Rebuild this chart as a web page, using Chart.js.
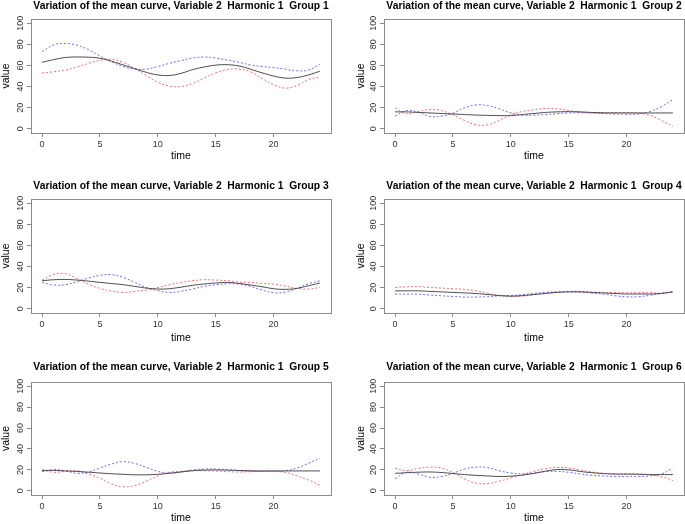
<!DOCTYPE html>
<html>
<head>
<meta charset="utf-8">
<script src="https://cdn.jsdelivr.net/npm/chart.js@4.4.0/dist/chart.umd.min.js"></script>
<style>
html, body { margin: 0; padding: 0; background: #fff; overflow: hidden; width: 685px; height: 524px; }
canvas { position: absolute; display: block; }
</style>
</head>
<body>
<script>
// time axis 0..24
var times = [0,1,2,3,4,5,6,7,8,9,10,11,12,13,14,15,16,17,18,19,20,21,22,23,24];
var xTicks = [0, 5, 10, 15, 20];
var yTicks = [0, 20, 40, 60, 80, 100];
var titlePrefix = 'Variation of the mean curve, Variable 2  Harmonic 1  Group ';

// mean curve (black), + harmonic (blue), - harmonic (red)
var mean1  = [63,65.5,67.5,68,67.8,66.8,64,60.5,57,53.5,51,50.5,52.5,56,58.5,60.3,60.7,59.5,56.5,53,50,48,48.5,51,54.5];
var plus1  = [73,79.5,80.8,79.2,75,69,63.5,59,56.5,56.5,59,62,64.5,67,68,67,65,63,60.5,59,58,56.5,55,55.5,61];
var minus1 = [52.8,54,55.5,58.5,62,64.8,65.7,63,57,50.5,44,40.5,40,43,48,53,56,56.6,54,47.8,41.8,38.5,41,46.5,49];

var mean2  = [16,16,15.5,15,14.5,14,13.5,13,12.7,12.5,12.5,13.5,14.5,15.5,16,16.2,16,15.5,15.2,15,15,15,15,15,15];
var plus2  = [12,17.3,15.7,11.6,12,14.8,19.8,22.6,22,18.9,15,12.9,12.9,13.5,14.3,15,15.2,15,14.5,14,13.8,14,16.4,21,27.7];
var minus2 = [19.8,14.2,16.4,18.2,17.3,13.2,7.9,3.8,3.8,7.9,13.2,16.4,18,19.2,18.9,17.3,15.7,15,14.8,15.4,15.4,14.8,12.9,7.9,2.2];

var mean3  = [26.6,27.5,27.8,27.2,26.2,25,23.9,22.8,21.2,19.6,18.7,19,20.5,22.2,23.5,24.4,25,24,22.5,20.9,19,18.4,19.3,21.8,24.4];
var plus3  = [25,22.5,22.8,25.6,29.1,31.6,32.3,29.7,25,20.2,17.1,15.5,16.5,18.7,21.2,22.8,23.7,23.4,21.2,17.7,15.2,15.8,19.3,23.7,26.6];
var minus3 = [27.2,32.6,33.2,28.8,23.4,19.3,16.8,15.5,16.5,17.7,20.2,22.8,25,26.6,27.5,27.2,26.6,25.3,25,24,23.4,21.5,19.3,18.7,20.2];

var mean4  = [17,17,17,16.5,16,15.5,15,14.5,13.5,12.5,12,12.5,13.5,14.5,15.5,16,16,15.5,15,14.5,14,14,14,14.5,16];
var plus4  = [13.9,13.9,13.9,13,12.3,11.7,11.1,11.1,11.4,12.3,12.7,13.3,14.6,15.5,16.1,16.1,15.8,14.9,13.9,12.3,11.4,11.4,12.7,14.6,16.1];
var minus4 = [20.2,20.8,21,20.2,19.6,19,18.4,17,14.6,12.7,11.7,12,13.3,14.9,15.8,16.5,16.5,15.8,15.5,15.2,15.2,15.2,15.2,14.9,16.1];

var mean5  = [19.5,19.5,19,18.5,17.8,17,16.3,15.8,15.3,15.3,15.8,16.8,18,19.2,19.8,20,19.8,19.5,19.2,19,19,19,19,19,19];
var plus5  = [18.3,20.2,19.2,16.7,18,21.8,25.6,27.8,26.2,22.4,18.6,16.7,18,19.9,20.8,20.8,20.2,19.2,18.6,18.6,18.9,19.2,21.8,26.2,31.2];
var minus5 = [20.2,17.7,18.6,19.2,16.1,12,6.6,3.8,5,9.1,14.2,17.7,18.6,19.2,19.2,18.9,18.3,18,18.3,18.6,18.6,17.7,14.5,10.4,5.4];

var mean6  = [16.7,17.3,17.8,18,17.5,16.5,15.5,14.8,14.2,13.7,14,15,16.7,18.8,20.3,20,18.5,17.3,16.5,16,16,15.8,15.5,15.5,15.5];
var plus6  = [11.7,17.7,16.1,12.9,13.6,16.7,20.8,22.7,22.1,19.2,17,16.1,17,18.3,18.6,17.7,16.1,14.8,14.2,13.6,13.6,13.6,14.2,16.1,21.5];
var minus6 = [21.5,19.2,21.5,22.7,21.8,17.4,11.4,7.3,6.9,9.1,12.3,15.5,18.6,21.1,22.4,21.8,19.9,18,16.7,16.1,16.1,16.1,15.5,13.6,9.8];

var groups = [
    [mean1, plus1, minus1], [mean2, plus2, minus2],
    [mean3, plus3, minus3], [mean4, plus4, minus4],
    [mean5, plus5, minus5], [mean6, plus6, minus6]
];

Chart.defaults.font.family = '"Liberation Sans", Arial, sans-serif';

function pts(vals) {
    return times.map(function(t, i) { return {x: t, y: vals[i]}; });
}

// R style box around the plot region
var boxPlugin = {
    id: 'rbox',
    afterDraw: function(chart) {
        var a = chart.chartArea, ctx = chart.ctx;
        ctx.save();
        ctx.strokeStyle = '#8a8a8a';
        ctx.lineWidth = 1;
        ctx.strokeRect(Math.round(a.left) + 0.5, Math.round(a.top) + 0.5,
            Math.round(a.right - a.left), Math.round(a.bottom - a.top));
        ctx.restore();
    }
};

var rowTop = [0, 175, 350];
var rowH = [175, 175, 174];
var boxTop = [19, 24, 32];
var boxBottom = [133, 138, 145];
var titlePadTop = [0, 4.8, 10.5];
var timePad = [13, 5.5, 0];

groups.forEach(function(g, i) {
    var col = i % 2, row = Math.floor(i / 2);
    var boxL = col ? 42 : 31;
    var boxR = col ? 342 : 331;
    var cw = boxL + boxR;           // canvas symmetric around plot box
    var ch = rowH[row];
    var bT = boxTop[row], bB = boxBottom[row];

    var cv = document.createElement('canvas');
    cv.width = cw; cv.height = ch;
    cv.style.left = (col ? 342 : 0) + 'px';
    cv.style.top = rowTop[row] + 'px';
    document.body.appendChild(cv);

    var line = {fill: false, pointRadius: 0, borderWidth: 1, tension: 0.4};

    new Chart(cv, {
        type: 'line',
        data: {
            datasets: [
                Object.assign({data: pts(g[0]), borderColor: '#4a4a4a'}, line),
                Object.assign({data: pts(g[1]), borderColor: '#6a6aff', borderDash: [2, 2]}, line),
                Object.assign({data: pts(g[2]), borderColor: '#ff6a6a', borderDash: [2, 2]}, line)
            ]
        },
        options: {
            responsive: false,
            animation: false,
            devicePixelRatio: 1,
            layout: {padding: 0},
            plugins: {
                legend: {display: false},
                tooltip: {enabled: false},
                title: {
                    display: true,
                    text: titlePrefix + (i + 1),
                    color: '#000',
                    font: {size: 10.3, weight: 'bold'},
                    padding: {top: titlePadTop[row], bottom: bT - titlePadTop[row] - 12.36}
                }
            },
            scales: {
                x: {
                    type: 'linear',
                    min: -0.96,
                    max: 24.96,
                    afterBuildTicks: function(s) { s.ticks = xTicks.map(function(v) { return {value: v}; }); },
                    afterFit: function(s) { s.height = ch - bB; },
                    grid: {drawOnChartArea: false, tickLength: 4, color: '#8a8a8a'},
                    border: {display: false},
                    ticks: {font: {size: 9}, color: '#333', padding: 2, maxRotation: 0},
                    title: {display: true, text: 'time', color: '#000', font: {size: 10.5}, padding: {top: 0, bottom: timePad[row]}}
                },
                y: {
                    type: 'linear',
                    min: -4,
                    max: 104,
                    afterBuildTicks: function(s) { s.ticks = yTicks.map(function(v) { return {value: v}; }); },
                    afterFit: function(s) { s.width = boxL; },
                    grid: {drawOnChartArea: false, tickLength: 4, color: '#8a8a8a'},
                    border: {display: false},
                    ticks: {font: {size: 9}, color: '#333', padding: -1.2, minRotation: 90, maxRotation: 90, crossAlign: 'center'},
                    title: {display: true, text: 'value', color: '#000', font: {size: 10.5}, padding: {top: col ? 13.3 : 0.3, bottom: 0}}
                },
                // empty right-hand axis so the title centres over the plot box
                yr: {
                    position: 'right',
                    grid: {display: false},
                    border: {display: false},
                    ticks: {display: false},
                    afterFit: function(s) { s.width = cw - boxR; }
                }
            }
        },
        plugins: [boxPlugin]
    });
});
</script>
</body>
</html>
